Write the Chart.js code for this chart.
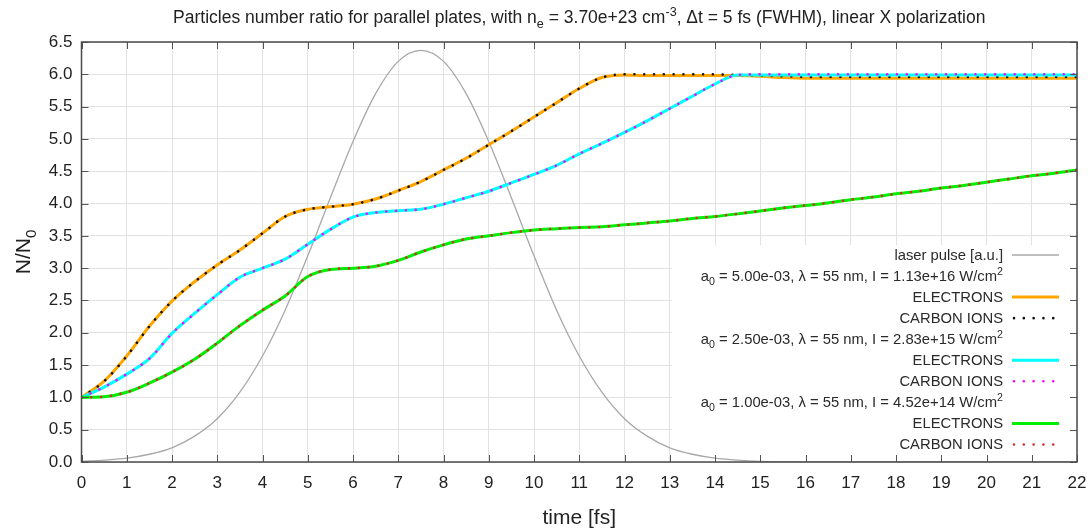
<!DOCTYPE html>
<html>
<head>
<meta charset="utf-8">
<script src="https://cdn.jsdelivr.net/npm/chart.js@4.4.1/dist/chart.umd.min.js"></script>
<style>
  body { margin: 0; background: #fff; }
  canvas { display: block; }
</style>
</head>
<body>
<canvas id="chart" width="1091" height="529"></canvas>
<script>
const FAM = "'Liberation Sans', Arial, sans-serif";

// time axis [fs]
const time = [0, 0.5, 1, 1.5, 2, 2.5, 3, 3.5, 4, 4.5, 5, 5.5, 6, 6.5, 7, 7.5, 8, 8.5, 9, 9.5, 10, 10.5,
  11, 11.5, 12, 12.5, 13, 13.5, 14, 14.5, 15, 15.5, 16, 16.5, 17, 17.5, 18, 18.5, 19, 19.5, 20, 20.5, 21, 21.5, 22];

// laser envelope [a.u.]
const laserPulse = [0.01, 0.03, 0.06, 0.12, 0.22, 0.40, 0.67, 1.08, 1.64, 2.35, 3.19, 4.09, 4.96, 5.70, 6.20, 6.37,
  6.20, 5.70, 4.96, 4.09, 3.19, 2.35, 1.64, 1.08, 0.67, 0.40, 0.22, 0.12, 0.06, 0.03, 0.01,
  0, 0, 0, 0, 0, 0, 0, 0, 0, 0, 0, 0, 0, 0];

// a0 = 5.00e-03
const electrons5 = [1.00, 1.25, 1.64, 2.10, 2.49, 2.79, 3.05, 3.28, 3.54, 3.80, 3.91, 3.95, 3.99, 4.07, 4.20, 4.34,
  4.52, 4.70, 4.91, 5.12, 5.34, 5.56, 5.78, 5.95, 5.99, 5.98, 5.98, 5.98, 5.98, 5.98, 5.97,
  5.95, 5.94, 5.94, 5.94, 5.94, 5.94, 5.94, 5.94, 5.94, 5.94, 5.94, 5.94, 5.94, 5.94];
const carbon5 = [1.00, 1.25, 1.64, 2.10, 2.49, 2.79, 3.05, 3.28, 3.54, 3.80, 3.91, 3.95, 3.99, 4.07, 4.20, 4.34,
  4.52, 4.70, 4.91, 5.12, 5.34, 5.56, 5.78, 5.95, 6.00, 6.00, 6.00, 6.00, 6.00, 5.99, 5.98,
  5.97, 5.96, 5.96, 5.96, 5.96, 5.96, 5.96, 5.96, 5.96, 5.96, 5.96, 5.96, 5.96, 5.96];

// a0 = 2.50e-03
const electrons25 = [1.00, 1.16, 1.36, 1.60, 1.99, 2.30, 2.59, 2.86, 3.00, 3.14, 3.37, 3.60, 3.79, 3.86, 3.89, 3.91,
  3.99, 4.09, 4.19, 4.32, 4.45, 4.59, 4.77, 4.93, 5.10, 5.28, 5.47, 5.66, 5.85, 5.99, 5.99,
  5.99, 5.99, 5.99, 5.99, 5.99, 5.99, 5.99, 5.99, 5.99, 5.99, 5.99, 5.99, 5.99, 5.99];
const carbon25 = [1.00, 1.16, 1.36, 1.60, 1.99, 2.30, 2.59, 2.86, 3.00, 3.14, 3.37, 3.60, 3.79, 3.86, 3.89, 3.91,
  3.99, 4.09, 4.19, 4.32, 4.45, 4.59, 4.77, 4.93, 5.10, 5.28, 5.47, 5.66, 5.85, 5.99, 6.00,
  6.00, 6.00, 6.00, 6.00, 6.00, 6.00, 6.00, 6.00, 6.00, 6.00, 6.00, 6.00, 6.00, 6.00];

// a0 = 1.00e-03
const electrons1 = [1.00, 1.01, 1.08, 1.22, 1.39, 1.59, 1.84, 2.11, 2.35, 2.57, 2.87, 2.98, 3.00, 3.03, 3.12, 3.25,
  3.36, 3.45, 3.50, 3.55, 3.59, 3.61, 3.63, 3.64, 3.67, 3.70, 3.73, 3.77, 3.80, 3.84, 3.885,
  3.93, 3.97, 4.01, 4.06, 4.10, 4.15, 4.19, 4.24, 4.28, 4.33, 4.38, 4.43, 4.47, 4.52];
const carbon1 = [1.00, 1.01, 1.08, 1.22, 1.39, 1.59, 1.84, 2.11, 2.35, 2.57, 2.87, 2.98, 3.00, 3.03, 3.12, 3.25,
  3.36, 3.45, 3.50, 3.55, 3.59, 3.61, 3.63, 3.64, 3.67, 3.70, 3.73, 3.77, 3.80, 3.84, 3.885,
  3.93, 3.97, 4.01, 4.06, 4.10, 4.15, 4.19, 4.24, 4.28, 4.33, 4.38, 4.43, 4.47, 4.52];

const yTickLabels = ["0.0", "0.5", "1.0", "1.5", "2.0", "2.5", "3.0", "3.5", "4.0", "4.5", "5.0", "5.5", "6.0", "6.5"];
const xTickLabels = ["0", "1", "2", "3", "4", "5", "6", "7", "8", "9", "10", "11", "12", "13", "14", "15", "16",
  "17", "18", "19", "20", "21", "22"];

const laserLabel = "laser pulse [a.u.]";
const speciesLabels = ["ELECTRONS", "CARBON IONS"];
const groupA0 = ["5.00e-03", "2.50e-03", "1.00e-03"];
const groupIntensity = ["1.13e+16", "2.83e+15", "4.52e+14"];

const pts = (arr) => time.map((t, i) => ({ x: t, y: arr[i] }));

const solid = (label, data, color, order) => ({
  label: label, data: pts(data), borderColor: color, borderWidth: 3, pointRadius: 0,
  cubicInterpolationMode: "monotone", order: order,
});
const dotted = (label, data, color, order) => ({
  label: label, data: pts(data), borderColor: color, borderWidth: 2.6, pointRadius: 0,
  borderDash: [0.01, 9.8], borderCapStyle: "round", cubicInterpolationMode: "monotone", order: order,
});

const datasets = [
  { label: laserLabel, data: pts(laserPulse), borderColor: "#a8a8a8", borderWidth: 1.3, pointRadius: 0,
    cubicInterpolationMode: "monotone", order: 7 },
  solid(speciesLabels[0], electrons5, "#ffa500", 6),
  dotted(speciesLabels[1], carbon5, "#111111", 5),
  solid(speciesLabels[0], electrons25, "#00ffff", 4),
  dotted(speciesLabels[1], carbon25, "#ff00ff", 3),
  solid(speciesLabels[0], electrons1, "#00ee00", 2),
  dotted(speciesLabels[1], carbon1, "#d42a2a", 1),
];

// text with sub / superscripts, parts = [[text, "sub"|"sup"|""], ...]
function drawRich(ctx, parts, x, y, size, align) {
  const small = size * 0.72;
  let w = 0;
  parts.forEach((p) => {
    ctx.font = (p[1] ? small : size) + "px " + FAM;
    w += ctx.measureText(p[0]).width;
  });
  let cx = align === "right" ? x - w : align === "center" ? x - w / 2 : x;
  ctx.textAlign = "left";
  ctx.textBaseline = "alphabetic";
  parts.forEach((p) => {
    ctx.font = (p[1] ? small : size) + "px " + FAM;
    const dy = p[1] === "sub" ? size * 0.28 : p[1] === "sup" ? -size * 0.42 : 0;
    ctx.fillText(p[0], cx, y + dy);
    cx += ctx.measureText(p[0]).width;
  });
}

const LEG = { left: 672, top: 245, textRight: 1003, lineX0: 1012, lineX1: 1059, row0: 255, step: 21.05 };

const decorPlugin = {
  id: "decor",
  beforeDatasetsDraw(chart) {
    const ctx = chart.ctx, a = chart.chartArea;
    ctx.save();
    ctx.fillStyle = "#ffffff";
    ctx.fillRect(LEG.left, LEG.top, a.right - LEG.left, a.bottom - LEG.top);
    ctx.restore();
  },
  afterDatasetsDraw(chart) {
    const ctx = chart.ctx, a = chart.chartArea;
    const xs = chart.scales.x, ys = chart.scales.y;
    ctx.save();
    // inward tick marks
    ctx.strokeStyle = "#555";
    ctx.lineWidth = 1;
    ctx.beginPath();
    xTickLabels.forEach((_, i) => {
      const px = Math.round(xs.getPixelForValue(i)) + 0.5;
      ctx.moveTo(px, a.bottom); ctx.lineTo(px, a.bottom - 7);
      ctx.moveTo(px, a.top); ctx.lineTo(px, a.top + 7);
    });
    yTickLabels.forEach((_, i) => {
      const py = Math.round(ys.getPixelForValue(i * 0.5)) + 0.5;
      ctx.moveTo(a.left, py); ctx.lineTo(a.left + 7, py);
      ctx.moveTo(a.right, py); ctx.lineTo(a.right - 7, py);
    });
    ctx.stroke();
    // border box
    ctx.strokeStyle = "#4a4a4a";
    ctx.lineWidth = 1.5;
    ctx.strokeRect(a.left, a.top, a.right - a.left, a.bottom - a.top);

    // legend
    const rows = [];
    rows.push({ parts: [[laserLabel, ""]], ds: datasets[0] });
    groupA0.forEach((a0, g) => {
      rows.push({ parts: [["a", ""], ["0", "sub"], [" = " + a0 + ", \u03bb = 55 nm, I = " + groupIntensity[g] + " W/cm", ""], ["2", "sup"]] });
      rows.push({ parts: [[speciesLabels[0], ""]], ds: datasets[1 + g * 2] });
      rows.push({ parts: [[speciesLabels[1], ""]], ds: datasets[2 + g * 2] });
    });
    rows.forEach((r, i) => {
      const cy = LEG.row0 + i * LEG.step;
      ctx.fillStyle = "#2a2a2a";
      drawRich(ctx, r.parts, LEG.textRight, cy + 5, 14.8, "right");
      if (r.ds) {
        ctx.beginPath();
        ctx.strokeStyle = r.ds.borderColor;
        ctx.lineWidth = r.ds.borderWidth;
        ctx.lineCap = r.ds.borderCapStyle || "butt";
        ctx.setLineDash(r.ds.borderDash || []);
        ctx.moveTo(LEG.lineX0 + (r.ds.borderDash ? 2 : 0), cy);
        ctx.lineTo(LEG.lineX1, cy);
        ctx.stroke();
        ctx.setLineDash([]);
      }
    });
    ctx.restore();
  },
  afterDraw(chart) {
    const ctx = chart.ctx, a = chart.chartArea;
    const cx = (a.left + a.right) / 2;
    ctx.save();
    ctx.fillStyle = "#222";
    drawRich(ctx, [
      ["Particles number ratio for parallel plates, with n", ""], ["e", "sub"],
      [" = 3.70e+23 cm", ""], ["-3", "sup"],
      [", \u0394t = 5 fs (FWHM), linear X polarization", ""],
    ], cx, 23, 17.5, "center");
    drawRich(ctx, [["time [fs]", ""]], cx, 524, 21, "center");
    ctx.translate(30, 252);
    ctx.rotate(-Math.PI / 2);
    drawRich(ctx, [["N/N", ""], ["0", "sub"]], 0, 0, 21, "center");
    ctx.restore();
  },
};

Chart.defaults.font.family = FAM;

new Chart(document.getElementById("chart"), {
  type: "line",
  data: { datasets: datasets },
  options: {
    responsive: false,
    animation: false,
    devicePixelRatio: 1,
    layout: { padding: { top: 42, right: 14, left: 0, bottom: 0 } },
    plugins: { legend: { display: false }, tooltip: { enabled: false }, title: { display: false } },
    scales: {
      x: {
        type: "linear", min: 0, max: 22,
        ticks: { stepSize: 1, color: "#222", font: { size: 17 }, padding: 11, maxRotation: 0, autoSkip: false,
          callback: (v, i) => xTickLabels[i] },
        grid: { color: "#e2e2e2", drawTicks: false },
        border: { display: false },
        afterFit: (s) => { s.height = 67; s.paddingLeft = 0; s.paddingRight = 0; },
      },
      y: {
        min: 0, max: 6.5,
        ticks: { stepSize: 0.5, color: "#222", font: { size: 17 }, padding: 9, callback: (v, i) => yTickLabels[i] },
        grid: { color: "#e2e2e2", drawTicks: false },
        border: { display: false },
        afterFit: (s) => { s.width = 81.5; s.paddingTop = 0; s.paddingBottom = 0; },
      },
    },
  },
  plugins: [decorPlugin],
});
</script>
</body>
</html>
